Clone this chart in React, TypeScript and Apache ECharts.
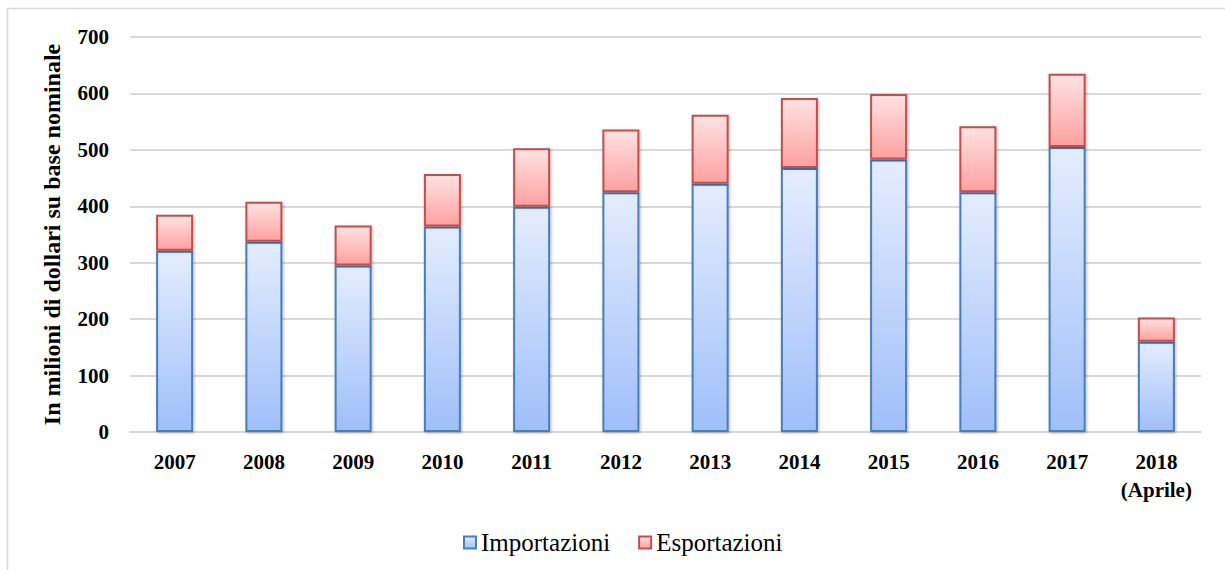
import React, { useEffect, useRef } from "react";
import * as echarts from "echarts";

const categories = ["2007", "2008", "2009", "2010", "2011", "2012", "2013", "2014", "2015", "2016", "2017", "2018\n(Aprile)"];
const importazioni = [321, 337, 295, 364, 399, 425, 440, 468, 483, 425, 505, 160];
const esportazioni = [64, 71, 71, 93, 104, 111, 122, 124, 116, 117, 130, 43];
const yTicks = [0, 100, 200, 300, 400, 500, 600, 700];

const FONT = "'Liberation Serif', 'Times New Roman', serif";

export default function App() {
  const ref = useRef<HTMLDivElement>(null);
  useEffect(() => {
    if (!ref.current) return;
    const chart = echarts.init(ref.current, undefined, { renderer: "svg" });
    const shadow = {
      shadowColor: "rgba(0,0,0,0.3)",
      shadowBlur: 3,
      shadowOffsetX: 1,
      shadowOffsetY: 1,
    };
    chart.setOption({
      animation: false,
      backgroundColor: "#ffffff",
      graphic: [
        {
          type: "rect",
          shape: { x: 7.5, y: 8.5, width: 1240, height: 600 },
          style: { fill: "none", stroke: "#D9D9D9", lineWidth: 1.5 },
          silent: true,
          z: -1,
        },
      ],
      grid: { left: 130, right: 24, top: 37, bottom: 138 },
      legend: {
        left: 458,
        top: 525,
        itemWidth: 12,
        itemHeight: 12,
        itemGap: 28,
        icon: "rect",
        textStyle: { fontFamily: FONT, fontSize: 25, color: "#000" },
        data: ["Importazioni", "Esportazioni"],
      },
      xAxis: {
        type: "category",
        data: categories,
        axisLine: { show: true, lineStyle: { color: "#D9D9D9", width: 2 } },
        axisTick: { show: false },
        axisLabel: {
          fontFamily: FONT,
          fontSize: 21,
          fontWeight: "bold",
          color: "#000",
          margin: 16,
          lineHeight: 28,
          interval: 0,
        },
      },
      yAxis: {
        type: "value",
        min: yTicks[0],
        max: yTicks[yTicks.length - 1],
        interval: 100,
        name: "In milioni di dollari su base nominale",
        nameLocation: "middle",
        nameRotate: 90,
        nameGap: 66,
        nameTextStyle: { fontFamily: FONT, fontSize: 24, fontWeight: "bold", color: "#000" },
        axisLine: { show: false },
        axisTick: { show: false },
        splitLine: { lineStyle: { color: "#D9D9D9", width: 2 } },
        axisLabel: {
          fontFamily: FONT,
          fontSize: 21,
          fontWeight: "bold",
          color: "#000",
          margin: 21,
        },
      },
      series: [
        {
          name: "Importazioni",
          type: "bar",
          stack: "tot",
          barWidth: 37,
          data: importazioni,
          itemStyle: {
            color: new echarts.graphic.LinearGradient(0, 0, 0, 1, [
              { offset: 0, color: "#E4EDFD" },
              { offset: 1, color: "#9EBFF9" },
            ]),
            borderColor: "#4A7EBB",
            borderWidth: 2,
            ...shadow,
          },
        },
        {
          name: "Esportazioni",
          type: "bar",
          stack: "tot",
          barWidth: 37,
          data: esportazioni,
          itemStyle: {
            color: new echarts.graphic.LinearGradient(0, 0, 0, 1, [
              { offset: 0, color: "#FFE2E2" },
              { offset: 1, color: "#FCA19F" },
            ]),
            borderColor: "#C0504D",
            borderWidth: 2,
            ...shadow,
          },
        },
      ],
    });
    return () => chart.dispose();
  }, []);
  return (
    <div
      ref={ref}
      style={{ position: "fixed", left: 0, top: 0, width: 1225, height: 570 }}
    />
  );
}
